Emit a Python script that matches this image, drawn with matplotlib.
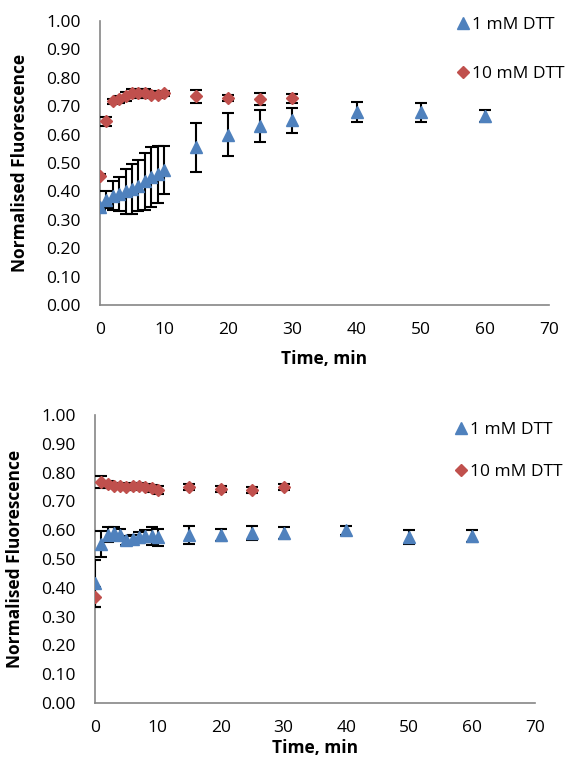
import numpy as np
import matplotlib.pyplot as plt

plt.rcParams['font.family'] = ['Open Sans', 'DejaVu Sans']

# ---------- données ----------
t_1mM = [0, 1, 2, 3, 4, 5, 6, 7, 8, 9, 10, 15, 20, 25, 30, 40, 50, 60]
t_10mM = [0, 1, 2, 3, 4, 5, 6, 7, 8, 9, 10, 15, 20, 25, 30]

# graphique du haut
top_1mM = [0.345, 0.37, 0.385, 0.39, 0.40, 0.41, 0.42, 0.435, 0.45, 0.46, 0.475,
           0.555, 0.60, 0.63, 0.65, 0.68, 0.678, 0.665]
top_1mM_err = [0.01, 0.03, 0.05, 0.06, 0.08, 0.088, 0.09, 0.10, 0.105, 0.10, 0.085,
               0.085, 0.075, 0.057, 0.045, 0.035, 0.032, 0.02]
top_10mM = [0.455, 0.647, 0.717, 0.725, 0.735, 0.745, 0.745, 0.745, 0.74, 0.74, 0.745,
            0.735, 0.73, 0.725, 0.728]
top_10mM_err = [0.005, 0.015, 0.01, 0.012, 0.015, 0.015, 0.015, 0.015, 0.012, 0.01, 0.008,
                0.023, 0.01, 0.022, 0.015]

# graphique du bas
bot_1mM = [0.415, 0.552, 0.585, 0.59, 0.585, 0.565, 0.57, 0.575, 0.58, 0.58, 0.575,
           0.583, 0.583, 0.59, 0.59, 0.60, 0.577, 0.58]
bot_1mM_err = [0.08, 0.045, 0.025, 0.02, 0.02, 0.015, 0.015, 0.02, 0.02, 0.03, 0.03,
               0.03, 0.02, 0.025, 0.02, 0.015, 0.025, 0.02]
bot_10mM = [0.368, 0.767, 0.76, 0.755, 0.755, 0.75, 0.752, 0.755, 0.75, 0.745, 0.74,
            0.75, 0.743, 0.74, 0.75]
bot_10mM_err = [0.035, 0.02, 0.012, 0.01, 0.01, 0.012, 0.012, 0.01, 0.012, 0.012, 0.015,
                0.01, 0.01, 0.01, 0.012]

xticks = np.arange(0, 71, 10)
yticks = np.arange(0, 1.01, 0.1)

blue = '#4F81BD'
red = '#C0504D'
fs = 12.5

fig = plt.figure(figsize=(5.71, 7.58), dpi=100)

ax1 = fig.add_axes([100 / 571, 1 - 305 / 758, 449 / 571, 284 / 758])
ax2 = fig.add_axes([95 / 571, 1 - 703 / 758, 440 / 571, 288 / 758])


def draw(ax, y1, e1, y2, e2, leg_pos, ylab_x, xlab_y, lspace):
    h1 = ax.errorbar(t_1mM, y1, yerr=e1, fmt='^', color=blue, ms=9, mec=blue,
                     ecolor='black', elinewidth=1.5, capsize=4, capthick=1.5, zorder=3)
    h2 = ax.errorbar(t_10mM, y2, yerr=e2, fmt='D', color=red, ms=6.5, mec=red,
                     ecolor='black', elinewidth=1.5, capsize=4, capthick=1.5, zorder=3)
    ax.set_xlim(0, 70)
    ax.set_ylim(0, 1)
    ax.set_xticks(xticks)
    ax.set_yticks(yticks)
    ax.set_yticklabels([f"{v:.2f}" for v in yticks])
    ax.tick_params(length=0, labelsize=fs)
    ax.tick_params(axis='y', pad=14)
    ax.tick_params(axis='x', pad=12)
    for s in ['top', 'right']:
        ax.spines[s].set_visible(False)
    for s in ['left', 'bottom']:
        ax.spines[s].set_color('#868686')
        ax.spines[s].set_linewidth(1.2)
    ax.set_xlabel("Time, min", fontweight='bold', fontsize=fs)
    ax.set_ylabel("Normalised Fluorescence", fontweight='bold', fontsize=12.5)
    ax.yaxis.set_label_coords(ylab_x, 0.5)
    ax.xaxis.set_label_coords(0.5, xlab_y)
    ax.legend([h1[0], h2[0]], ["1 mM DTT", "10 mM DTT"], loc='upper left',
              bbox_to_anchor=leg_pos, bbox_transform=fig.transFigure, frameon=False,
              fontsize=fs, handletextpad=0.1, handlelength=0.8, labelspacing=lspace,
              borderpad=0, borderaxespad=0)


draw(ax1, top_1mM, top_1mM_err, top_10mM, top_10mM_err,
     (456 / 571, 1 - 17 / 758), -0.158, -0.158, 1.86)
draw(ax2, bot_1mM, bot_1mM_err, bot_10mM, bot_10mM_err,
     (454 / 571, 1 - 422 / 758), -0.161, -0.126, 1.5)

fig.savefig("out.png", dpi=100)
